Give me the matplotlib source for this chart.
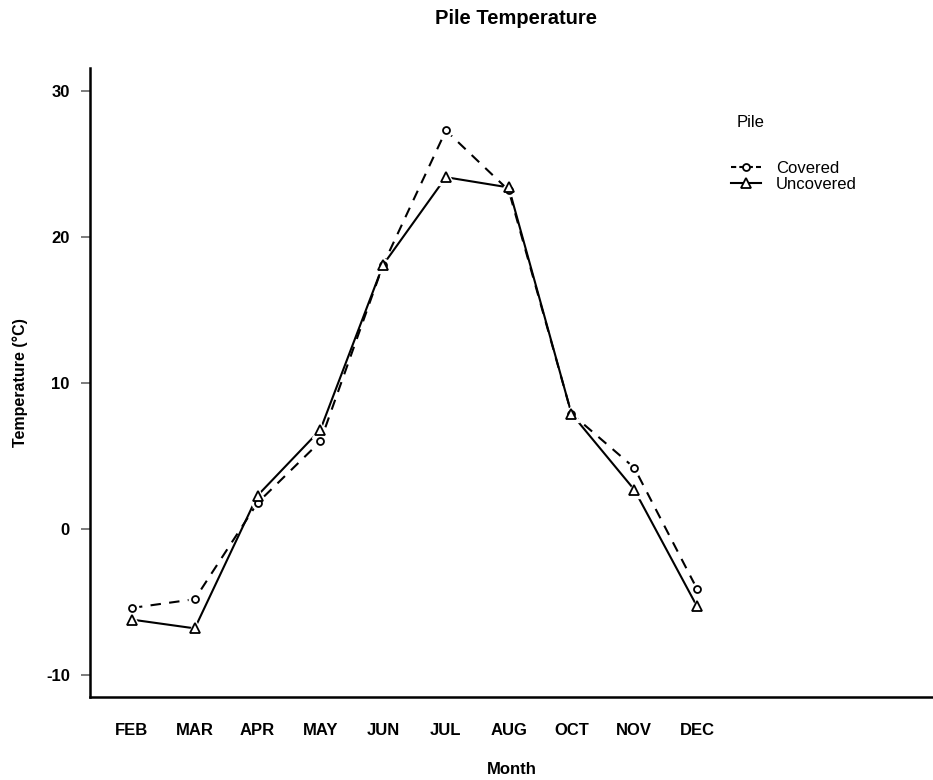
import matplotlib
matplotlib.use("Agg")
import matplotlib.pyplot as plt
from matplotlib.lines import Line2D

months = ["FEB", "MAR", "APR", "MAY", "JUN", "JUL", "AUG", "OCT", "NOV", "DEC"]
covered = [-5.4, -4.8, 1.8, 6.0, 18.1, 27.3, 23.2, 7.9, 4.2, -4.1]
uncovered = [-6.2, -6.8, 2.3, 6.8, 18.1, 24.1, 23.4, 7.9, 2.7, -5.3]
series_names = ["Covered", "Uncovered"]
y_ticks = [-10, 0, 10, 20, 30]

plt.rcParams['font.family'] = ['Liberation Sans', 'DejaVu Sans']

fig = plt.figure(figsize=(9.33, 7.8), dpi=100)
ax = fig.add_axes([90/933, 83/780, 1 - 90/933, (697-68)/780])

x = list(range(1, len(months) + 1))

ax.plot(x, covered, color='black', lw=1.5, ls=(0, (5, 4)), zorder=2)
ax.plot(x, uncovered, color='black', lw=1.5, ls='-', zorder=2)
ax.plot(x, covered, 'o', ms=9, mfc='white', mec='white', zorder=3)
ax.plot(x, uncovered, '^', ms=11, mfc='white', mec='white', zorder=3)
ax.plot(x, covered, 'o', ms=5, mfc='white', mec='black', mew=1.3, zorder=4)
ax.plot(x, uncovered, '^', ms=7, mfc='white', mec='black', mew=1.3, zorder=4)

ax.set_xlim(1 - 42/62.8, 10 + 236/62.8)
ax.set_ylim(-11.5, 31.58)
ax.set_xticks(x)
ax.set_xticklabels(months, fontsize=12, fontweight='bold')
ax.set_yticks(y_ticks)
ax.set_yticklabels([str(t) for t in y_ticks], fontsize=12, fontweight='bold')
ax.tick_params(axis='x', length=0, pad=19)
ax.tick_params(axis='y', length=6.5, width=1.2, color='#666666', pad=8)

for s in ['top', 'right']:
    ax.spines[s].set_visible(False)
for s in ['left', 'bottom']:
    ax.spines[s].set_linewidth(1.8)
    ax.spines[s].set_color('black')

ax.set_xlabel("Month", fontsize=12, fontweight='bold')
ax.xaxis.set_label_coords(0.5, (697 - 769) / 629, transform=ax.transAxes)
ax.xaxis.label.set_va('center')
ax.set_ylabel("Temperature (°C)", fontsize=11.5, fontweight='bold')
ax.yaxis.set_label_coords((20 - 90) / 843, 0.5, transform=ax.transAxes)
ax.yaxis.label.set_va('center')
ax.set_title("Pile Temperature", fontsize=14.5, fontweight='bold', pad=0,
             x=(516 - 90) / 843, y=(697 - 18) / 629, va='center')

handles = [
    Line2D([], [], color='black', lw=1.5, ls=(0, (2.5, 1.5)), marker='o', ms=5, mfc='white', mec='black', mew=1.3),
    Line2D([], [], color='black', lw=1.5, ls='-', marker='^', ms=7, mfc='white', mec='black', mew=1.3),
]
leg = fig.legend(handles, series_names, title="Pile", loc='upper left',
                 bbox_to_anchor=(716/933, 1 - 100/780), frameon=False,
                 fontsize=12, title_fontsize=12, handlelength=1.8,
                 handletextpad=0.9, labelspacing=0.1, alignment='left')
leg._legend_box.sep = 22
leg.get_title().set_position((6, 0))

fig.savefig("out.png", dpi=100)
